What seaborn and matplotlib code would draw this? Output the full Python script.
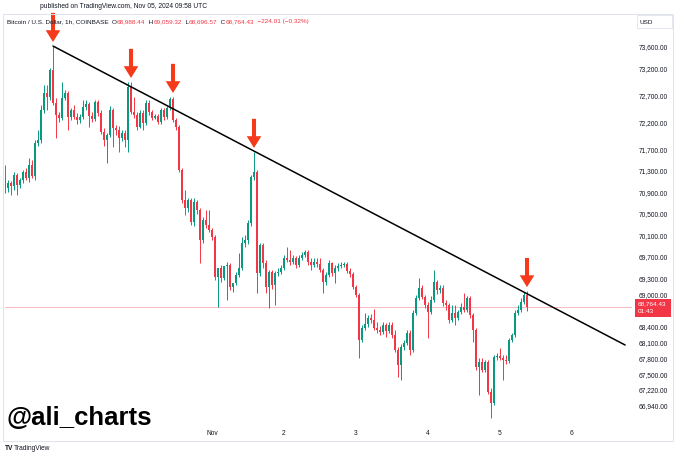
import numpy as np
import pandas as pd
import matplotlib
matplotlib.use("Agg")
import matplotlib.pyplot as plt
import matplotlib.transforms as mtransforms
from matplotlib.patches import Rectangle
import seaborn as sns

# ---------------- data (BTC/USD 1h, Coinbase) ----------------
# hours relative to Nov 1 00:00 UTC
hours = list(range(-69, 106))

opens = [
    71163, 70977, 71070, 71014, 71219, 71033, 71126, 71275, 71163, 71405,
    71200, 71814, 71870, 72428, 72744, 72670, 73172, 72558, 72335, 72279,
    72651, 72744, 72298, 72428, 72298, 72242, 72298, 72484, 72540, 72316,
    72260, 72577, 72372, 72019, 71870, 71963, 72428, 72093, 72056, 71907,
    72000, 71870, 72856, 72391, 72335, 72112, 72372, 72186, 72558, 72391,
    72279, 72316, 72205, 72428, 72298, 72465, 72633, 72242, 72112, 71312,
    70754, 70605, 70754, 70345, 70717, 70568, 70010, 70382, 70289, 70196,
    70066, 69322, 69489, 69303, 69526, 69545, 69136, 69210, 69359, 69489,
    69954, 70010, 70326, 71181, 71275, 69396, 69917, 69582, 69136, 69415,
    69173, 69396, 69415, 69489, 69675, 69638, 69601, 69675, 69545, 69675,
    69731, 69787, 69601, 69545, 69601, 69563, 69452, 69229, 69359, 69582,
    69396, 69489, 69526, 69545, 69563, 69433, 69377, 69136, 68987, 68150,
    68373, 68447, 68559, 68522, 68373, 68336, 68299, 68429, 68317, 68429,
    68243, 67964, 67685, 68020, 68094, 68280, 67964, 68652, 68931, 69117,
    68950, 68801, 68671, 68894, 69229, 69080, 69117, 68838, 68801, 68522,
    68652, 68559, 68671, 68764, 68708, 68931, 68615, 68336, 67648, 67741,
    67592, 67741, 67183, 66978, 67834, 67852, 67815, 67778, 67759, 68150,
    68243, 68652, 68708, 68857, 68988.44]

highs = [
    71405, 71126, 71107, 71275, 71256, 71163, 71312, 71349, 71535, 71498,
    71870, 72056, 72521, 72893, 72893, 73209, 73618, 72651, 72391, 72949,
    72800, 72781, 72465, 72521, 72372, 72353, 72614, 72614, 72577, 72391,
    72614, 72614, 72428, 72093, 72000, 72502, 72465, 72149, 72130, 72056,
    72056, 72949, 72949, 72670, 72391, 72428, 72428, 72614, 72614, 72428,
    72353, 72353, 72465, 72465, 72502, 72670, 72670, 72279, 72149, 71349,
    70940, 70791, 70791, 70791, 70754, 70605, 70438, 70568, 70568, 70233,
    70103, 69489, 69545, 69526, 69601, 69582, 69210, 69415, 69768, 70066,
    70103, 70382, 71219, 71647, 71312, 69954, 69954, 69638, 69452, 69452,
    69433, 69489, 69545, 69731, 69880, 69824, 69731, 69712, 69731, 69787,
    69824, 69824, 69675, 69675, 69675, 69675, 69489, 69415, 69638, 69601,
    69545, 69582, 69601, 69601, 69601, 69489, 69415, 69173, 69024, 68429,
    68652, 68615, 68633, 68726, 68485, 68410, 68485, 68466, 68485, 68485,
    68336, 68020, 68075, 68150, 68336, 68336, 68708, 68987, 69303, 69173,
    68987, 68857, 68968, 69452, 69266, 69173, 69173, 68894, 68838, 68801,
    68801, 68708, 68838, 69024, 68968, 68968, 68652, 68373, 67815, 67815,
    67778, 67778, 67257, 67871, 67908, 68001, 67871, 67871, 68187, 68280,
    68708, 68801, 68931, 69043, 69059.32]

lows = [
    70884, 70903, 70847, 70940, 70847, 70977, 71070, 71126, 71089, 71163,
    71126, 71758, 71814, 72372, 72428, 72614, 72521, 71907, 72205, 72242,
    72614, 72056, 72242, 72260, 72167, 72186, 72260, 72428, 72112, 72205,
    72223, 72316, 71981, 71758, 71442, 71926, 71740, 71963, 71647, 71851,
    71740, 71647, 72353, 72279, 72056, 72093, 72056, 72149, 72335, 72242,
    72260, 72167, 72167, 72242, 72260, 72428, 72205, 72056, 71275, 70698,
    70475, 70531, 70289, 70270, 70494, 69582, 69954, 70233, 70159, 70010,
    69266, 68764, 69229, 69266, 68894, 69080, 69043, 69173, 69322, 69452,
    69880, 69935, 70270, 71126, 69024, 69340, 69489, 69024, 68745, 69099,
    68801, 69340, 69377, 69452, 69601, 69545, 69563, 69489, 69508, 69638,
    69694, 69545, 69452, 69508, 69508, 69415, 69024, 69173, 69322, 69340,
    69210, 69433, 69489, 69508, 69396, 69322, 69099, 68950, 67815, 68113,
    68336, 68391, 68466, 68336, 68280, 68243, 68261, 68206, 68280, 68187,
    67927, 67462, 67406, 67964, 68057, 67871, 67927, 68615, 68894, 68912,
    68745, 68187, 68633, 68857, 69005, 69024, 68782, 68708, 68466, 68485,
    68429, 68522, 68633, 68671, 68671, 68559, 68113, 67592, 67127, 67555,
    67555, 67146, 66699, 66941, 67778, 67778, 67406, 67704, 67722, 68113,
    68206, 68615, 68671, 68819, 68696.57]

closes = [
    70977, 71070, 71014, 71219, 71033, 71126, 71275, 71163, 71405, 71200,
    71814, 71870, 72428, 72744, 72670, 73172, 72558, 72335, 72279, 72651,
    72744, 72298, 72428, 72298, 72242, 72298, 72484, 72540, 72316, 72260,
    72577, 72372, 72019, 71870, 71963, 72428, 72093, 72056, 71907, 72000,
    71870, 72856, 72391, 72335, 72112, 72372, 72186, 72558, 72391, 72279,
    72316, 72205, 72428, 72298, 72465, 72633, 72242, 72112, 71312, 70754,
    70605, 70754, 70345, 70717, 70568, 70010, 70382, 70289, 70196, 70066,
    69322, 69489, 69303, 69526, 69545, 69136, 69210, 69359, 69489, 69954,
    70010, 70326, 71181, 71275, 69396, 69917, 69582, 69136, 69415, 69173,
    69396, 69415, 69489, 69675, 69638, 69601, 69675, 69545, 69675, 69731,
    69787, 69601, 69545, 69601, 69563, 69452, 69229, 69359, 69582, 69396,
    69489, 69526, 69545, 69563, 69433, 69377, 69136, 68987, 68150, 68373,
    68447, 68559, 68522, 68373, 68336, 68299, 68429, 68317, 68429, 68243,
    67964, 67685, 68020, 68094, 68280, 67964, 68652, 68931, 69117, 68950,
    68801, 68671, 68894, 69229, 69080, 69117, 68838, 68801, 68522, 68652,
    68559, 68671, 68764, 68708, 68931, 68615, 68336, 67648, 67741, 67592,
    67741, 67183, 66978, 67834, 67852, 67815, 67778, 67759, 68150, 68243,
    68652, 68708, 68857, 68987, 68764.43]

# descending trendline drawn on the chart (anchor hour, price)
trend_hours = [-53, 137.7]
trend_prices = [73618, 68057]

# candles marked with arrows (rejections at the trendline)
peak_idx = [16, 42, 56, 83, 174]

ytick_values = [73600, 73200, 72700, 72200, 71700, 71300, 70900, 70500, 70100,
                69700, 69300, 69000, 68400, 68100, 67800, 67500, 67220, 66940]
xtick_hours = [0, 24, 48, 72, 96, 120]
xtick_labels = ["Nov", "2", "3", "4", "5", "6"]

header_title = "Bitcoin / U.S. Dollar, 1h, COINBASE"
published = "published on TradingView.com, Nov 05, 2024 09:58 UTC"

assert len(hours) == len(opens) == len(highs) == len(lows) == len(closes)

# ---------------- style ----------------
GREEN = "#089981"
RED = "#f23645"
ARROW = "#f5391b"
DARK = "#131722"
BORDER = "#e0e3eb"

sns.set_theme(style="white")
plt.rcParams["font.family"] = ["Liberation Sans", "DejaVu Sans"]

W, H = 679, 457
fig = plt.figure(figsize=(W / 100, H / 100), dpi=100)
fig.patch.set_facecolor("white")


def fx(px):
    return px / W


def fy(py):
    return 1 - py / H


ax = fig.add_axes([fx(5), fy(425), (632 - 5) / W, (425 - 14) / H])
ax.set_facecolor("white")

df = pd.DataFrame(dict(hour=hours, open=opens, high=highs, low=lows, close=closes))
df["color"] = np.where(df["close"] >= df["open"], GREEN, RED)

ax.vlines(df["hour"], df["low"], df["high"], colors=df["color"], linewidth=0.7, zorder=2)
body_bottom = np.minimum(df["open"], df["close"])
body_h = np.maximum(np.abs(df["close"] - df["open"]), 14)
ax.bar(df["hour"], body_h, bottom=body_bottom, width=0.8, color=df["color"],
       linewidth=0, zorder=3)

sns.lineplot(x=trend_hours, y=trend_prices, ax=ax, color="#000000", linewidth=1.1,
             zorder=4)

ax.axhline(closes[-1], color=RED, lw=0.6, alpha=0.4, zorder=1)

ax.set_xlim(-69, 140)
ax.set_ylim(66569, 74214)

ax.yaxis.tick_right()
ax.set_yticks(ytick_values)
ax.set_yticklabels([f"{v:,.2f}" for v in ytick_values])
ax.set_xticks(xtick_hours)
ax.set_xticklabels(xtick_labels)
ax.tick_params(axis="y", length=0, pad=5, labelsize=4.8, labelcolor=DARK)
ax.tick_params(axis="x", length=0, pad=3.5, labelsize=4.8, labelcolor=DARK)
for s in ax.spines.values():
    s.set_visible(False)
ax.grid(False)

# arrows pointing at the rejection highs
tip_tr = mtransforms.offset_copy(ax.transData, fig=fig, x=0, y=4, units="dots")
for i in peak_idx:
    ax.annotate("", xy=(hours[i], highs[i]), xycoords=tip_tr,
                xytext=(0, 21), textcoords="offset points",
                arrowprops=dict(width=2.9, headwidth=10.5, headlength=8.5,
                                facecolor=ARROW, edgecolor="none", shrink=0),
                annotation_clip=False, zorder=6)

# ---------------- frame and chrome ----------------
fig.patches.append(Rectangle((fx(3), fy(441)), (673 - 3) / W, (441 - 14) / H,
                             transform=fig.transFigure, fill=False,
                             edgecolor=BORDER, lw=0.7, zorder=0))
fig.patches.append(Rectangle((fx(637), fy(28)), 35 / W, 13 / H,
                             transform=fig.transFigure, facecolor="white",
                             edgecolor=BORDER, lw=0.6, zorder=5))
fig.text(fx(640), fy(22), "USD", fontsize=4.6, color=DARK, va="center", ha="left",
         zorder=6)

# last price label
fig.canvas.draw()
ydisp = ax.transData.transform((0, closes[-1]))[1]
yfrac = ydisp / fig.bbox.height
fig.patches.append(Rectangle((fx(635), yfrac - 10 / H), 36 / W, 18 / H,
                             transform=fig.transFigure, facecolor=RED,
                             edgecolor="none", zorder=5))
fig.text(fx(638), yfrac + 3.5 / H, f"{closes[-1]:,.2f}", fontsize=4.6, color="white",
         va="center", ha="left", zorder=6)
fig.text(fx(638), yfrac - 5 / H, "01:43", fontsize=4.6, color="white",
         va="center", ha="left", zorder=6)

# published line
fig.text(fx(123), fy(7), published, fontsize=4.8, color=DARK, ha="center", va="center")

# header with OHLC
o, h, l, c = opens[-1], highs[-1], lows[-1], closes[-1]
chg = c - o
pct = chg / o * 100
pieces = [
    (header_title + "  ", DARK),
    ("O", DARK), (f"{o:,.2f}", RED),
    ("  H", DARK), (f"{h:,.2f}", RED),
    ("  L", DARK), (f"{l:,.2f}", RED),
    ("  C", DARK), (f"{c:,.2f}", RED),
    (f"  \u2212{abs(chg):,.2f} (\u2212{abs(pct):.2f}%)", RED),
]
renderer = fig.canvas.get_renderer()
xpos = 7
for txt, col in pieces:
    t = fig.text(fx(xpos), fy(22), txt, fontsize=4.6, color=col, ha="left", va="center")
    bb = t.get_window_extent(renderer=renderer)
    xpos += bb.width

# watermark / handle
fig.text(fx(6), fy(418), "@ali_charts", fontsize=18.5, fontweight="bold",
         color="black", ha="left", va="center", zorder=10)

# TradingView footer
fig.text(fx(5), fy(448), "TV", fontsize=4.8, fontweight="bold", color=DARK,
         ha="left", va="center")
fig.text(fx(14), fy(448), "TradingView", fontsize=4.8, color=DARK, ha="left", va="center")

fig.savefig("out.png", dpi=100, facecolor="white")
